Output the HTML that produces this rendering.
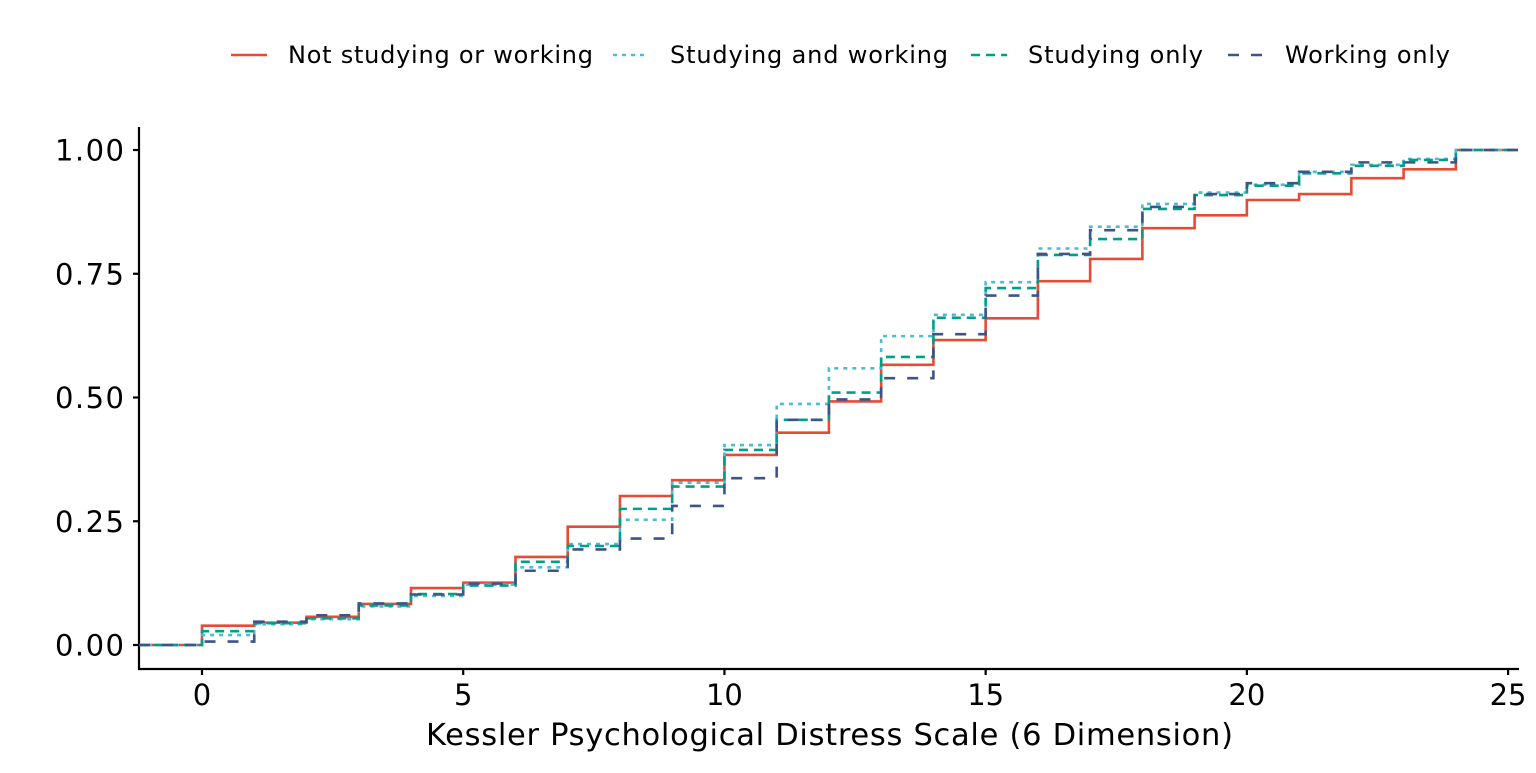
<!DOCTYPE html>
<html><head><meta charset="utf-8"><style>
body{margin:0;background:#fff;}
svg text{font-family:"DejaVu Sans","Liberation Sans",sans-serif;}
</style></head><body>
<svg id="chart" width="1536" height="768">
<g id="legend"></g>
<g id="axes"></g>
<g id="lines"></g>
<text x="426" y="745" textLength="807" lengthAdjust="spacing" font-size="30.5" fill="#000">Kessler Psychological Distress Scale (6 Dimension)</text>
</svg>
<script>
const seriesNames = ["Not studying or working","Studying and working","Studying only","Working only"];
const notStudyingOrWorking = [0.039,0.045,0.057,0.083,0.115,0.126,0.178,0.239,0.301,0.333,0.384,0.429,0.492,0.566,0.616,0.660,0.735,0.780,0.842,0.868,0.899,0.911,0.943,0.961,1.0];
const studyingAndWorking = [0.020,0.042,0.052,0.078,0.099,0.122,0.157,0.204,0.253,0.328,0.404,0.487,0.559,0.624,0.667,0.733,0.801,0.845,0.891,0.914,0.930,0.956,0.970,0.982,1.0];
const studyingOnly = [0.028,0.044,0.054,0.080,0.103,0.120,0.168,0.200,0.275,0.320,0.394,0.455,0.510,0.582,0.661,0.721,0.788,0.820,0.881,0.909,0.928,0.953,0.968,0.980,1.0];
const workingOnly = [0.007,0.047,0.060,0.084,0.102,0.124,0.150,0.193,0.215,0.281,0.337,0.455,0.496,0.539,0.628,0.706,0.790,0.838,0.885,0.911,0.933,0.956,0.975,0.975,1.0];
const xTicks = [0,5,10,15,20,25];
const yTicks = [0,0.25,0.5,0.75,1.0];
const yTickLabels = ["0.00","0.25","0.50","0.75","1.00"];

const NS="http://www.w3.org/2000/svg";
const xMin=-1.206,xMax=25.19,pxL=139,pxR=1518;
const X=v=>pxL+(v-xMin)/(xMax-xMin)*(pxR-pxL);
const Y=v=>645-v*495;
function mk(tag,attrs,parent){const e=document.createElementNS(NS,tag);for(const k in attrs)e.setAttribute(k,attrs[k]);parent.appendChild(e);return e;}
const axes=document.getElementById('axes');
let l=mk('line',{x1:139,y1:127,x2:139,y2:670,stroke:'#000','stroke-width':2.2},axes);


l=mk('line',{x1:138,y1:669,x2:1519,y2:669,stroke:'#000','stroke-width':2.2},axes);


yTicks.forEach((v,i)=>{
  const t=mk('line',{x1:133,x2:139,y1:Y(v),y2:Y(v),stroke:'#000','stroke-width':2.2},axes);
  
  
  const tx=mk('text',{x:55,y:Y(v)+10.5,textLength:69,lengthAdjust:'spacing','font-size':29,fill:'#000'},axes);
  tx.textContent=yTickLabels[i];
  
  
});
xTicks.forEach(v=>{
  const t=mk('line',{x1:X(v),x2:X(v),y1:669,y2:675,stroke:'#000','stroke-width':2.2},axes);
  
  
  const tx=mk('text',{x:X(v),y:705,'text-anchor':'middle','font-size':29,fill:'#000'},axes);
  tx.textContent=String(v);
  
  
});
const styles=[
 {c:'#E64B35',d:'',name:'line-not-studying-or-working',data:notStudyingOrWorking},
 {c:'#4DBBD5',d:'4 5',name:'line-studying-and-working',data:studyingAndWorking},
 {c:'#00A087',d:'9 6',name:'line-studying-only',data:studyingOnly},
 {c:'#3C5488',d:'11 12',name:'line-working-only',data:workingOnly}];
const lines=document.getElementById('lines');
styles.forEach(s=>{
  let d='M'+X(xMin)+','+Y(0);
  let prev=0;
  s.data.forEach((v,i)=>{d+=' L'+X(i)+','+Y(prev)+' L'+X(i)+','+Y(v);prev=v;});
  d+=' L'+X(xMax)+','+Y(prev);
  const p=mk('path',{d:d,fill:'none',stroke:s.c,'stroke-width':2.6},lines);
  if(s.d)p.setAttribute('stroke-dasharray',s.d);
  
  
});
const leg=document.getElementById('legend');
const lx=[231,613,971,1228];
const legW=[305,278,175,165];
styles.forEach((s,i)=>{
  const k=mk('line',{x1:lx[i],x2:lx[i]+36,y1:55,y2:55,stroke:s.c,'stroke-width':2.6},leg);
  if(s.d)k.setAttribute('stroke-dasharray',s.d);
  
  
  const t=mk('text',{x:lx[i]+57,y:63,textLength:legW[i],lengthAdjust:'spacing','font-size':24,fill:'#000'},leg);
  t.textContent=seriesNames[i];
  
  
});
</script>
</body></html>
